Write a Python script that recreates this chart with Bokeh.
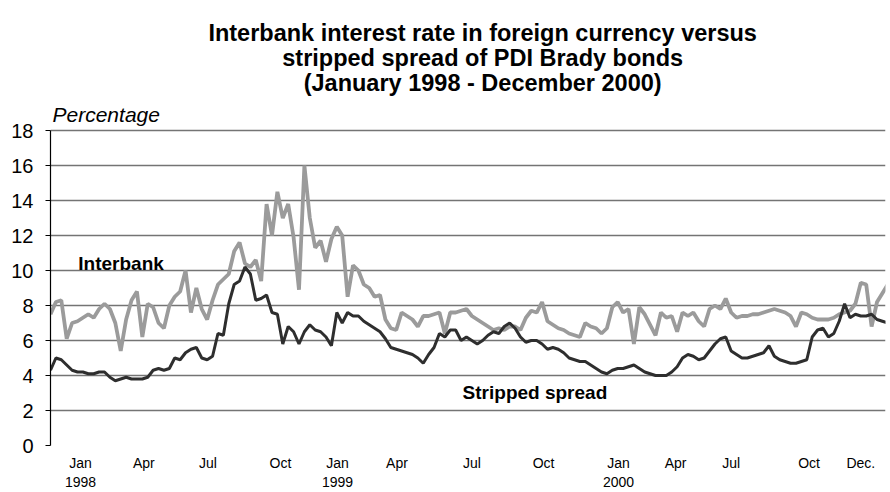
from bokeh.plotting import figure
from bokeh.models import Label, FixedTicker, Range1d
from bokeh.embed import file_html
from bokeh.resources import INLINE

# Weekly observations, day offset from 1 Jan 1998
interbank = [7.5, 8.2, 8.3, 6.1, 7.0, 7.1, 7.3, 7.5, 7.3, 7.8,
             8.1, 7.8, 7.0, 5.4, 7.2, 8.3, 8.8, 6.2, 8.1, 7.9,
             7.0, 6.7, 8.0, 8.5, 8.8, 10.0, 7.6, 9.0, 7.8, 7.2,
             8.3, 9.2, 9.5, 9.8, 11.1, 11.6, 10.4, 10.2, 10.6, 9.4,
             13.8, 12.0, 14.5, 13.0, 13.8, 11.9, 8.9, 16.0, 13.0, 11.3,
             11.7, 10.5, 11.8, 12.5, 12.0, 8.5, 10.3, 10.0, 9.2, 9.0,
             8.5, 8.6, 7.2, 6.7, 6.6, 7.6, 7.4, 7.2, 6.8, 7.4,
             7.4, 7.5, 7.6, 6.4, 7.6, 7.6, 7.7, 7.8, 7.4, 7.2,
             7.0, 6.8, 6.6, 6.7, 6.6, 6.8, 6.8, 6.6, 7.3, 7.7,
             7.6, 8.2, 7.1, 6.9, 6.7, 6.6, 6.4, 6.3, 6.2, 7.0,
             6.8, 6.7, 6.4, 6.7, 7.9, 8.2, 7.6, 7.8, 5.8, 7.9,
             7.5, 6.9, 6.3, 7.6, 7.3, 7.4, 6.5, 7.6, 7.4, 7.6,
             7.1, 6.8, 7.8, 8.0, 7.8, 8.4, 7.6, 7.3, 7.4, 7.4,
             7.5, 7.5, 7.6, 7.7, 7.8, 7.7, 7.6, 7.4, 6.8, 7.6,
             7.5, 7.3, 7.2, 7.2, 7.2, 7.3, 7.5, 7.6, 7.7, 8.1,
             9.3, 9.2, 6.8, 8.2, 8.7, 9.2]

stripped = [4.3, 5.0, 4.9, 4.6, 4.3, 4.2, 4.2, 4.1, 4.1, 4.2,
            4.2, 3.9, 3.7, 3.8, 3.9, 3.8, 3.8, 3.8, 3.9, 4.3,
            4.4, 4.3, 4.4, 5.0, 4.9, 5.3, 5.5, 5.6, 5.0, 4.9,
            5.1, 6.4, 6.3, 8.1, 9.2, 9.4, 10.2, 9.8, 8.3, 8.4,
            8.6, 7.6, 7.5, 5.8, 6.8, 6.5, 5.8, 6.5, 6.9, 6.6,
            6.5, 6.2, 5.7, 7.6, 7.0, 7.6, 7.4, 7.4, 7.1, 6.9,
            6.7, 6.5, 6.1, 5.6, 5.5, 5.4, 5.3, 5.2, 5.0, 4.7,
            5.2, 5.6, 6.4, 6.2, 6.6, 6.6, 6.0, 6.2, 6.0, 5.8,
            6.0, 6.3, 6.5, 6.4, 6.8, 7.0, 6.7, 6.2, 5.9, 6.0,
            6.0, 5.8, 5.5, 5.6, 5.5, 5.3, 5.0, 4.9, 4.8, 4.8,
            4.6, 4.4, 4.2, 4.1, 4.3, 4.4, 4.4, 4.5, 4.6, 4.4,
            4.2, 4.1, 4.0, 4.0, 4.0, 4.2, 4.5, 5.0, 5.2, 5.1,
            4.9, 5.0, 5.4, 5.8, 6.1, 6.2, 5.4, 5.2, 5.0, 5.0,
            5.1, 5.2, 5.3, 5.7, 5.1, 4.9, 4.8, 4.7, 4.7, 4.8,
            4.9, 6.2, 6.6, 6.7, 6.2, 6.4, 7.1, 8.1, 7.3, 7.5,
            7.4, 7.4, 7.5, 7.2, 7.1, 7.0]

days = [7 * i for i in range(len(interbank))]

tick_days = [39, 121, 204, 298, 372, 449, 546, 639, 736, 810, 882, 983, 1050]
tick_labels = ["Jan\n1998", "Apr", "Jul", "Oct", "Jan\n1999", "Apr", "Jul", "Oct",
               "Jan\n2000", "Apr", "Jul", "Oct", "Dec."]
y_ticks = [0, 2, 4, 6, 8, 10, 12, 14, 16, 18]

title_lines = ["Interbank interest rate in foreign currency versus",
               "stripped spread of PDI Brady bonds",
               "(January 1998 - December 2000)"]

FONT = "Liberation Sans"

p = figure(width=888, height=492, output_backend="svg", toolbar_location=None,
           x_range=Range1d(0, 1082), y_range=Range1d(0, 25.43),
           min_border_left=50, min_border_right=3, min_border_top=0, min_border_bottom=47)
p.outline_line_color = None
p.background_fill_color = "white"

p.line(days, interbank, line_color="#9b9b9b", line_width=3.8)
p.line(days, stripped, line_color="#2e2e2e", line_width=3.0)

p.xgrid.grid_line_color = None
p.ygrid.grid_line_color = "#747474"
p.ygrid.grid_line_width = 1.5
p.ygrid.ticker = FixedTicker(ticks=y_ticks)

p.yaxis.ticker = FixedTicker(ticks=y_ticks)
p.yaxis.bounds = (0, 18)
p.yaxis.axis_line_color = "black"
p.yaxis.axis_line_width = 1.2
p.yaxis.major_tick_line_color = "black"
p.yaxis.major_tick_out = 5
p.yaxis.major_tick_in = 0
p.yaxis.minor_tick_line_color = None
p.yaxis.major_label_text_font = FONT
p.yaxis.major_label_text_font_size = "20px"
p.yaxis.major_label_text_color = "black"
p.yaxis.major_label_standoff = 12

p.xaxis.ticker = FixedTicker(ticks=tick_days)
p.xaxis.major_label_overrides = {d: t for d, t in zip(tick_days, tick_labels)}
p.xaxis.axis_line_color = None
p.xaxis.major_tick_line_color = None
p.xaxis.minor_tick_line_color = None
p.xaxis.major_tick_out = 0
p.xaxis.major_label_text_font = FONT
p.xaxis.major_label_text_font_size = "14px"
p.xaxis.major_label_text_color = "black"
p.xaxis.major_label_standoff = 9

title_y = [23.55, 22.12, 20.69]
for txt, yy in zip(title_lines, title_y):
    p.add_layout(Label(x=560, y=yy, text=txt, text_align="center", text_baseline="alphabetic",
                       text_font=FONT, text_font_style="bold", text_font_size="23.5px",
                       text_color="black"))

p.add_layout(Label(x=2.6, y=18.91, text="Percentage", text_align="left", text_baseline="alphabetic",
                   text_font=FONT, text_font_style="italic", text_font_size="21px",
                   text_color="black"))
p.add_layout(Label(x=36, y=10.38, text="Interbank", text_align="left", text_baseline="alphabetic",
                   text_font=FONT, text_font_style="bold", text_font_size="19px",
                   text_color="black"))
p.add_layout(Label(x=534, y=3.05, text="Stripped spread", text_align="left", text_baseline="alphabetic",
                   text_font=FONT, text_font_style="bold", text_font_size="19px",
                   text_color="black"))

open("out.html", "w").write(file_html(p, INLINE))
